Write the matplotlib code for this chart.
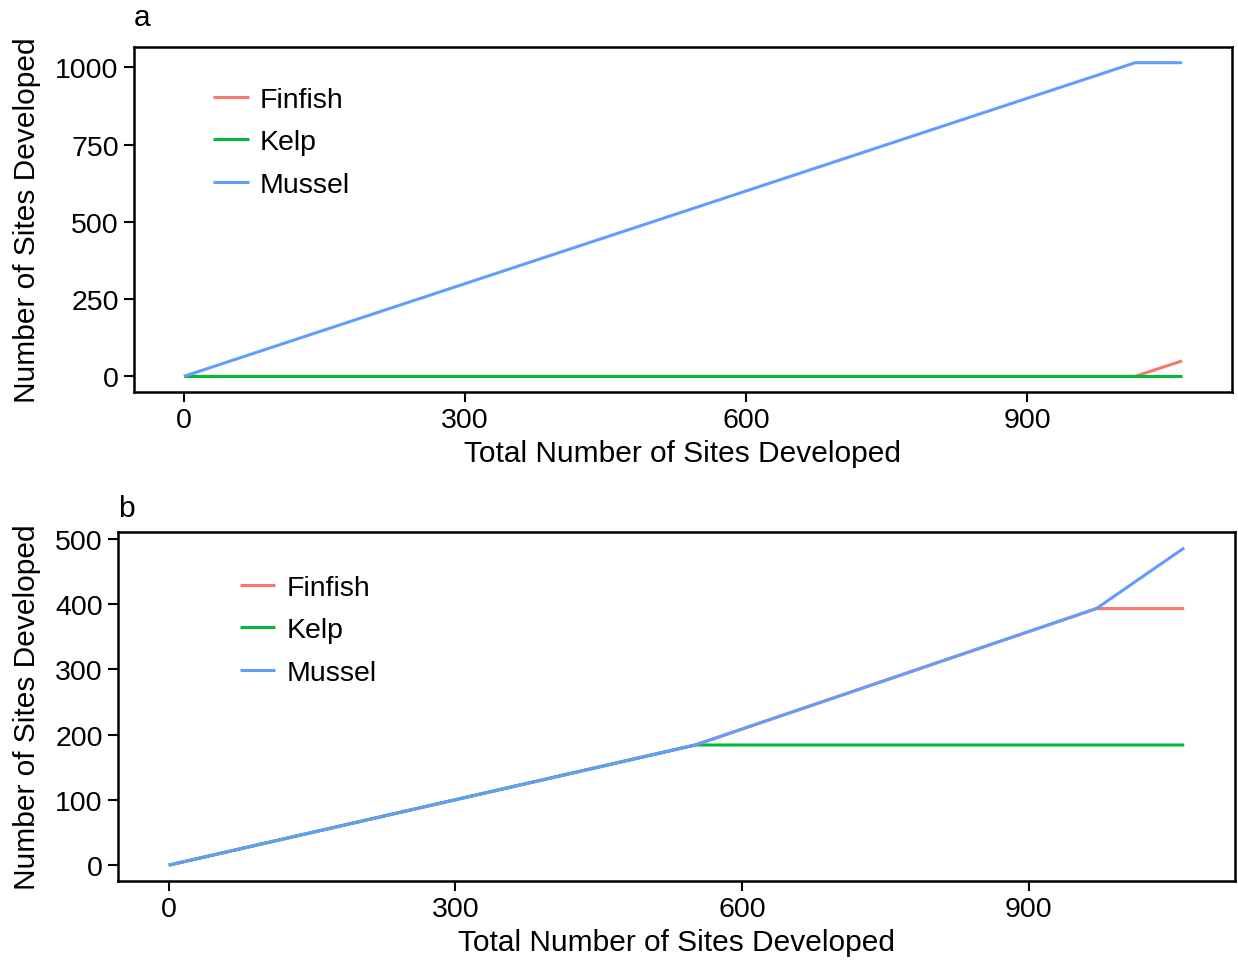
import matplotlib
matplotlib.use("Agg")
import matplotlib.pyplot as plt

plt.rcParams['font.family'] = ['Liberation Sans', 'DejaVu Sans']

# Panel a data (breakpoints)
total_a = [0, 1015, 1065]
finfish_a = [0, 0, 50]
kelp_a = [0, 0, 0]
mussel_a = [0, 1015, 1015]

# Panel b data (breakpoints)
total_b = [0, 551, 971, 1063]
finfish_b = [0, 184, 393, 393]
kelp_b = [0, 184, 184, 184]
mussel_b = [0, 184, 393, 486]

species = ["Finfish", "Kelp", "Mussel"]
colors = ["#F8766D", "#00BA38", "#619CFF"]
xticks = [0, 300, 600, 900]
yticks_a = [0, 250, 500, 750, 1000]
yticks_b = [0, 100, 200, 300, 400, 500]

W, H = 1238, 962
fig = plt.figure(figsize=(W / 100, H / 100), dpi=100)


def box(l, t, r, b):
    return [l / W, 1 - b / H, (r - l) / W, (b - t) / H]


ax_a = fig.add_axes(box(134, 48, 1232, 393))
ax_b = fig.add_axes(box(118, 533, 1235, 882))


def style(ax, x, series, yticks, legend_anchor, label, label_y):
    for name, col, ys in zip(species, colors, series):
        ax.plot(x, ys, color=col, lw=2.2, label=name, solid_capstyle='butt')
    xmax = max(x)
    ymax = max(max(s) for s in series)
    ax.set_xlim(-0.05 * xmax, xmax * 1.05)
    ax.set_ylim(-0.05 * ymax, ymax * 1.05)
    ax.set_xticks(xticks)
    ax.set_yticks(yticks)
    ax.tick_params(axis='both', direction='out', length=7, width=1.5,
                   labelsize=20.5, colors='black', pad=4)
    for sp in ax.spines.values():
        sp.set_linewidth(1.8)
        sp.set_color('black')
    ax.set_xlabel("Total Number of Sites Developed", fontsize=21.5, labelpad=4)
    ax.set_ylabel("Number of Sites Developed", fontsize=21.5, labelpad=10)
    ax.legend(loc='upper left', bbox_to_anchor=legend_anchor, frameon=False,
              fontsize=20.5, handlelength=1.25, handletextpad=0.4,
              labelspacing=0.58, borderaxespad=0, borderpad=0)
    ax.text(0.0, label_y, label, transform=ax.transAxes, fontsize=21.5,
            ha='left', va='bottom')


style(ax_a, total_a, [finfish_a, kelp_a, mussel_a], yticks_a, (0.072, 0.885), "a", 1.045)
style(ax_b, total_b, [finfish_b, kelp_b, mussel_b], yticks_b, (0.109, 0.878), "b", 1.03)

fig.savefig("out.png", dpi=100)
